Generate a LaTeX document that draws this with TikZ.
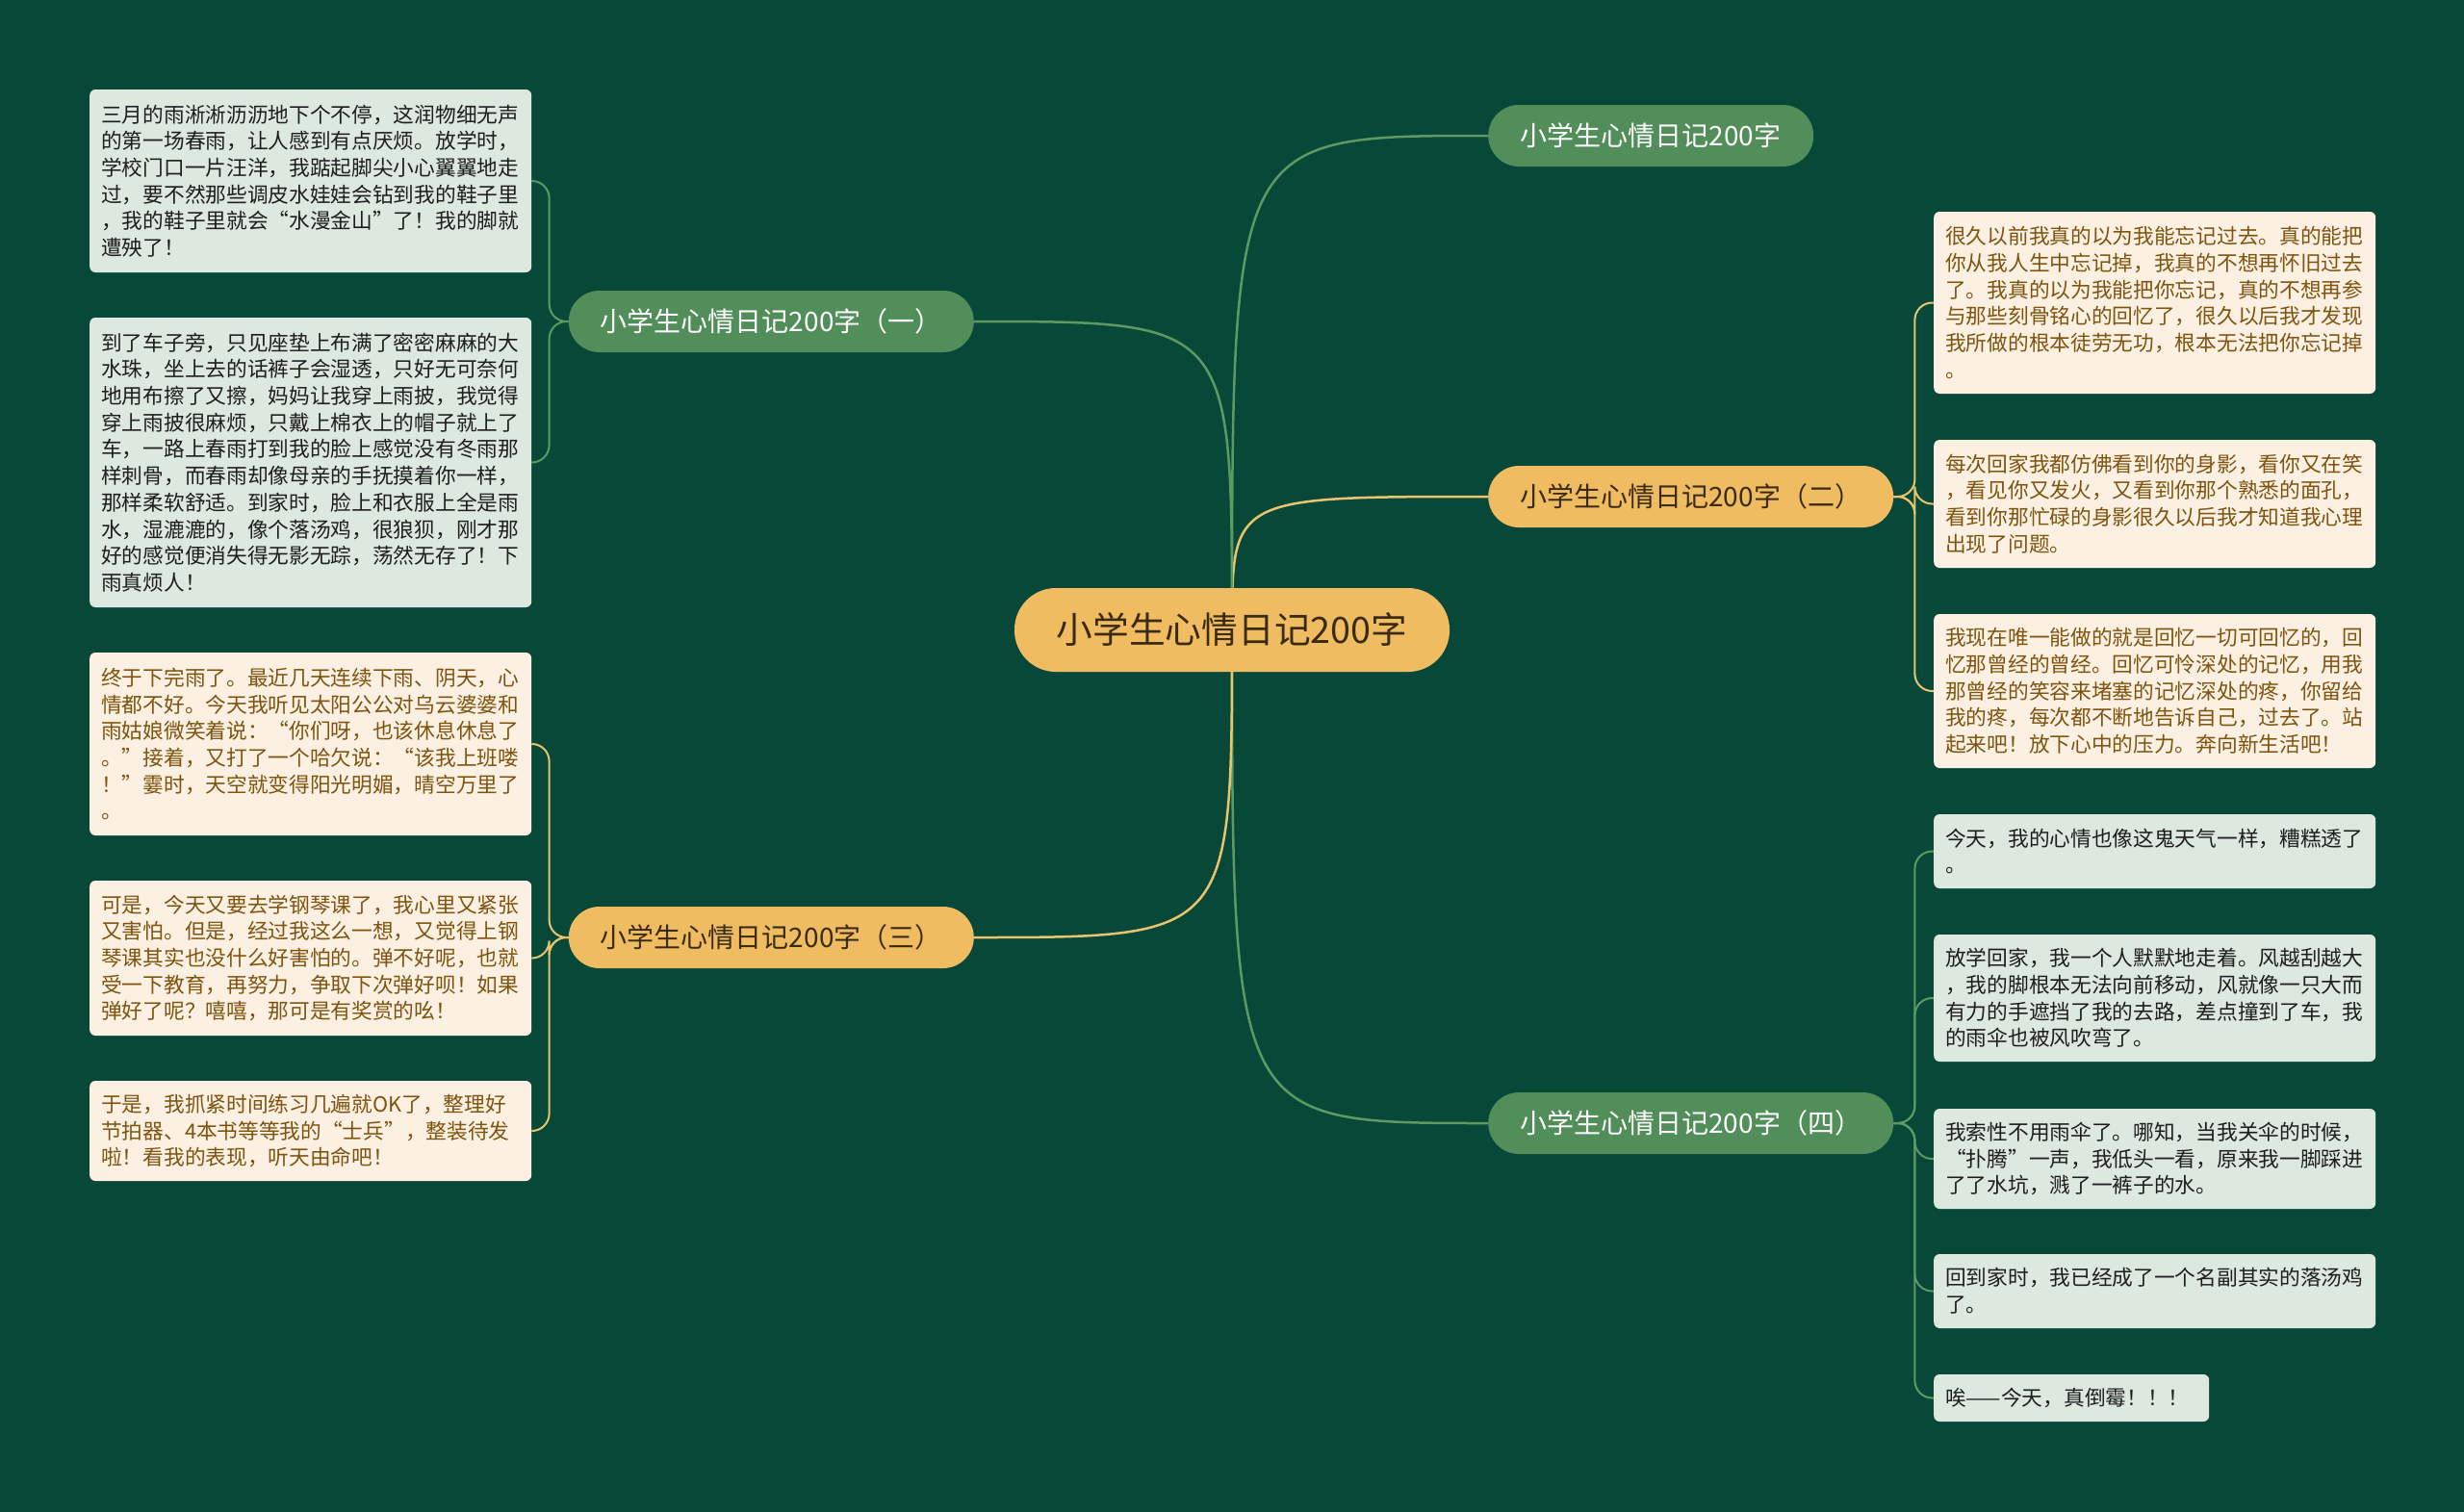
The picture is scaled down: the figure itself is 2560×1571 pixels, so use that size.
\documentclass[tikz,border=0pt]{standalone}
\usepackage{fontspec}
\setmainfont{Noto Sans CJK SC}
\definecolor{bgc}{HTML}{084838}
\definecolor{gnode}{HTML}{528E5A}
\definecolor{ynode}{HTML}{EFBC62}
\definecolor{ydark}{HTML}{3A2A10}
\definecolor{gline}{HTML}{5B9A62}
\definecolor{yline}{HTML}{E9C46E}
\definecolor{lgfill}{HTML}{DDE8DF}
\definecolor{crfill}{HTML}{FBF0E1}
\definecolor{brtext}{HTML}{7E5410}
\definecolor{gtext}{HTML}{1E1E1E}
\pgfdeclarelayer{bg}
\pgfdeclarelayer{edges}
\pgfsetlayers{bg,edges,main}
\tikzset{
  tbox/.style={rounded corners=6pt, anchor=west, text width=435pt, inner xsep=12pt, inner ysep=0pt, align=left, font=\fontsize{21.7}{27.7}\selectfont},
  gbox/.style={tbox, fill=lgfill, text=gtext},
  ybox/.style={tbox, fill=crfill, text=brtext},
  branch/.style={rounded corners=32pt, minimum height=64pt, inner xsep=0pt, inner ysep=0pt, font=\fontsize{28}{32}\selectfont, anchor=west},
  gbranch/.style={branch, fill=gnode, text=white},
  ybranch/.style={branch, fill=ynode, text=ydark},
  gconn/.style={draw=gline, line width=2.5pt},
  yconn/.style={draw=yline, line width=2.5pt},
}
\begin{document}
\begin{tikzpicture}[x=1pt,y=-1pt]
\begin{pgfonlayer}{bg}
\fill[bgc] (0,0) rectangle (2560,1571);
\end{pgfonlayer}
\useasboundingbox (0,0) rectangle (2560,1571);

% root
\node[fill=ynode, text=ydark, rounded corners=43pt, minimum width=452pt, minimum height=87pt, inner sep=0pt, font=\fontsize{37.7}{42}\selectfont] (root) at (1280,654.5) {小学生心情日记200字};

% branches
\node[gbranch, minimum width=338pt] (top) at (1546,141) {小学生心情日记200字};
\node[ybranch, minimum width=421pt] (b2) at (1546,516) {小学生心情日记200字（二）};
\node[gbranch, minimum width=421pt] (b4) at (1546,1167) {小学生心情日记200字（四）};
\node[gbranch, minimum width=421pt, anchor=east] (b1) at (1012,334) {小学生心情日记200字（一）};
\node[ybranch, minimum width=421pt, anchor=east] (b3) at (1012,974) {小学生心情日记200字（三）};

% left group (一)
\node[gbox, minimum height=190pt] (l1) at (93,188) {三月的雨淅淅沥沥地下个不停，这润物细无声\\的第一场春雨，让人感到有点厌烦。放学时，\\学校门口一片汪洋，我踮起脚尖小心翼翼地走\\过，要不然那些调皮水娃娃会钻到我的鞋子里\\，我的鞋子里就会“水漫金山”了！我的脚就\\遭殃了！};
\node[gbox, minimum height=301pt] (l2) at (93,480.5) {到了车子旁，只见座垫上布满了密密麻麻的大\\水珠，坐上去的话裤子会湿透，只好无可奈何\\地用布擦了又擦，妈妈让我穿上雨披，我觉得\\穿上雨披很麻烦，只戴上棉衣上的帽子就上了\\车，一路上春雨打到我的脸上感觉没有冬雨那\\样刺骨，而春雨却像母亲的手抚摸着你一样，\\那样柔软舒适。到家时，脸上和衣服上全是雨\\水，湿漉漉的，像个落汤鸡，很狼狈，刚才那\\好的感觉便消失得无影无踪，荡然无存了！下\\雨真烦人！};

% left group (三)
\node[ybox, minimum height=190pt] (l3) at (93,773) {终于下完雨了。最近几天连续下雨、阴天，心\\情都不好。今天我听见太阳公公对乌云婆婆和\\雨姑娘微笑着说：“你们呀，也该休息休息了\\。”接着，又打了一个哈欠说：“该我上班喽\\！”霎时，天空就变得阳光明媚，晴空万里了\\。};
\node[ybox, minimum height=161pt] (l4) at (93,995.5) {可是，今天又要去学钢琴课了，我心里又紧张\\又害怕。但是，经过我这么一想，又觉得上钢\\琴课其实也没什么好害怕的。弹不好呢，也就\\受一下教育，再努力，争取下次弹好呗！如果\\弹好了呢？嘻嘻，那可是有奖赏的吆！};
\node[ybox, minimum height=104pt] (l5) at (93,1175) {于是，我抓紧时间练习几遍就OK了，整理好\\节拍器、4本书等等我的“士兵”，整装待发\\啦！看我的表现，听天由命吧！};

% right group (二)
\node[ybox, minimum height=189pt] (r1) at (2009,314.5) {很久以前我真的以为我能忘记过去。真的能把\\你从我人生中忘记掉，我真的不想再怀旧过去\\了。我真的以为我能把你忘记，真的不想再参\\与那些刻骨铭心的回忆了，很久以后我才发现\\我所做的根本徒劳无功，根本无法把你忘记掉\\。};
\node[ybox, minimum height=133pt] (r2) at (2009,523.5) {每次回家我都仿佛看到你的身影，看你又在笑\\，看见你又发火，又看到你那个熟悉的面孔，\\看到你那忙碌的身影很久以后我才知道我心理\\出现了问题。};
\node[ybox, minimum height=160pt] (r3) at (2009,718) {我现在唯一能做的就是回忆一切可回忆的，回\\忆那曾经的曾经。回忆可怜深处的记忆，用我\\那曾经的笑容来堵塞的记忆深处的疼，你留给\\我的疼，每次都不断地告诉自己，过去了。站\\起来吧！放下心中的压力。奔向新生活吧！};

% right group (四)
\node[gbox, minimum height=77pt] (s1) at (2009,884.5) {今天，我的心情也像这鬼天气一样，糟糕透了\\。};
\node[gbox, minimum height=132pt] (s2) at (2009,1037) {放学回家，我一个人默默地走着。风越刮越大\\，我的脚根本无法向前移动，风就像一只大而\\有力的手遮挡了我的去路，差点撞到了车，我\\的雨伞也被风吹弯了。};
\node[gbox, minimum height=104pt] (s3) at (2009,1204) {我索性不用雨伞了。哪知，当我关伞的时候，\\“扑腾”一声，我低头一看，原来我一脚踩进\\了了水坑，溅了一裤子的水。};
\node[gbox, minimum height=77pt] (s4) at (2009,1341.5) {回到家时，我已经成了一个名副其实的落汤鸡\\了。};
\node[gbox, minimum height=49pt, text width=262pt] (s5) at (2009,1452.5) {唉——今天，真倒霉！！！};

\begin{pgfonlayer}{edges}
\draw[gconn] (root.center) .. controls (1280,141) .. (top.west);
\draw[yconn] (root.center) .. controls (1280,516) .. (b2.west);
\draw[gconn] (root.center) .. controls (1280,1167) .. (b4.west);
\draw[gconn] (root.center) .. controls (1280,334) .. (b1.east);
\draw[yconn] (root.center) .. controls (1280,974) .. (b3.east);

\foreach \c in {l1,l2}
  \draw[gconn, line width=2pt, rounded corners=18pt] (b1.west) -- ++(-20,0) |- (\c.east);
\foreach \c in {l3,l4,l5}
  \draw[yconn, line width=2pt, rounded corners=18pt] (b3.west) -- ++(-20,0) |- (\c.east);
\foreach \c in {r1,r2,r3}
  \draw[yconn, line width=2pt, rounded corners=18pt] (b2.east) -- ++(22,0) |- (\c.west);
\foreach \c in {s1,s2,s3,s4,s5}
  \draw[gconn, line width=2pt, rounded corners=18pt] (b4.east) -- ++(22,0) |- (\c.west);
\end{pgfonlayer}
\end{tikzpicture}
\end{document}
